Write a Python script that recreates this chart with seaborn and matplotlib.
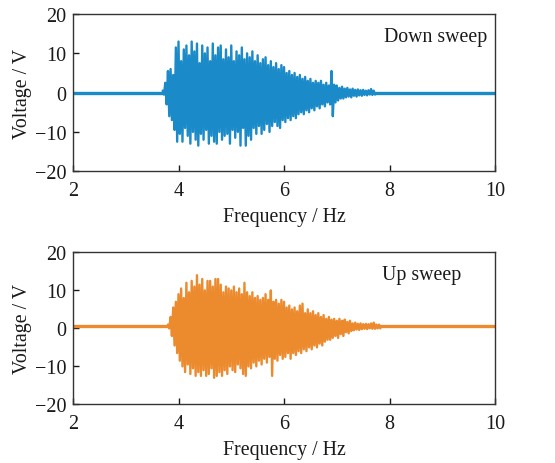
import numpy as np
import pandas as pd
import matplotlib
matplotlib.use("Agg")
import matplotlib.pyplot as plt
import seaborn as sns

# ---------------- data ----------------
# Down sweep: upper / lower peak voltages every 0.05 Hz starting at 3.70 Hz
down_start = 3.70
down_upper = [0.5, 2.5, 5.5, 6.0, 4.5, 11.5, 13.0, 8.0, 11.0, 12.0,
              9.5, 13.0, 10.5, 12.5, 7.5, 12.0, 10.0, 11.5, 8.0, 12.5,
              9.5, 11.5, 12.0, 8.5, 11.0, 9.0, 12.0, 8.0, 10.5, 9.5,
              11.5, 8.5, 10.0, 9.0, 10.5, 8.0, 9.5, 7.5, 8.5, 9.0,
              7.0, 8.0, 6.5, 7.5, 6.0, 7.0, 6.5, 5.0, 5.5, 4.5,
              5.0, 4.0, 4.5, 3.5, 4.0, 3.0, 3.5, 2.5, 3.0, 2.5,
              3.0, 2.0, 2.5, 1.8, 5.5, 2.0, 1.8, 1.2, 1.5, 1.0,
              1.2, 0.8, 1.0, 0.7, 0.8, 0.6, 0.7, 0.5, 0.6, 0.9, 0.5]
down_lower = [-0.5, -3.0, -6.0, -7.0, -9.5, -12.5, -10.5, -12.5, -9.0, -11.0,
              -13.0, -10.0, -12.0, -13.5, -10.5, -12.0, -9.5, -13.0, -11.0, -12.5,
              -13.0, -10.0, -12.0, -11.0, -10.5, -13.0, -9.5, -11.5, -10.0, -13.5,
              -9.0, -13.5, -11.0, -12.0, -9.0, -10.5, -8.5, -10.5, -9.5, -8.0,
              -10.0, -8.5, -7.5, -8.5, -9.0, -7.0, -7.5, -6.5, -7.0, -6.0,
              -6.5, -5.5, -5.0, -5.5, -4.5, -5.0, -4.0, -4.5, -3.5, -4.0,
              -3.0, -3.5, -2.5, -3.0, -6.0, -2.5, -2.0, -1.5, -1.5, -1.2,
              -1.0, -1.2, -0.8, -1.0, -0.7, -0.8, -0.6, -0.7, -0.5, -0.6, -0.5]

# Up sweep: upper / lower peak voltages every 0.05 Hz starting at 3.80 Hz
up_start = 3.80
up_upper = [0.5, 2.5, 5.0, 6.5, 8.5, 10.0, 7.5, 11.5, 9.0, 12.0,
            10.5, 13.5, 11.0, 12.5, 9.5, 12.0, 12.0, 10.5, 12.5, 12.5,
            11.0, 9.0, 10.5, 10.0, 9.5, 10.5, 9.0, 10.0, 8.5, 11.5,
            9.0, 8.0, 9.0, 7.5, 8.0, 7.0, 7.5, 8.5, 7.0, 9.5,
            6.5, 7.0, 6.0, 7.0, 6.5, 5.0, 5.5, 4.5, 5.0, 4.0,
            5.5, 6.0, 3.5, 4.5, 3.5, 4.0, 3.0, 3.5, 2.5, 3.0,
            2.0, 2.5, 1.8, 2.0, 1.5, 2.0, 1.5, 1.8, 1.2, 1.5,
            0.8, 1.0, 0.7, 0.8, 0.6, 0.7, 0.6, 0.8, 1.0, 0.5, 0.5]
up_lower = [-0.5, -2.5, -5.0, -7.0, -9.0, -10.5, -12.0, -10.0, -12.5, -11.0,
            -13.0, -12.0, -13.0, -11.5, -13.0, -12.5, -11.0, -13.5, -13.0, -12.0,
            -13.0, -11.5, -12.5, -10.5, -11.5, -12.0, -10.0, -11.0, -12.5, -13.0,
            -10.5, -11.0, -9.5, -10.5, -9.0, -10.0, -8.5, -9.5, -8.0, -13.0,
            -8.5, -9.0, -7.5, -8.5, -8.0, -7.0, -8.5, -7.0, -7.5, -6.5,
            -7.0, -6.0, -6.5, -5.5, -6.0, -5.0, -5.5, -4.5, -5.0, -4.0,
            -3.5, -3.5, -3.0, -2.5, -3.0, -2.0, -2.5, -1.5, -1.8, -1.2,
            -1.0, -0.8, -0.9, -0.7, -0.6, -0.7, -0.5, -0.6, -0.6, -0.5, -0.5]

step = 0.05
baseline_down = 0.0
baseline_up = 0.4
titles = ["Down sweep", "Up sweep"]
colors = ["#1a8ac8", "#ec8a2e"]
x_ticks = [2, 4, 6, 8, 10]
y_ticks = [-20, -10, 0, 10, 20]


def zigzag(start, upper, lower, base):
    f = start + step * np.arange(len(upper))
    xs = np.ravel(np.column_stack([f, f + step / 2]))
    ys = np.ravel(np.column_stack([upper, lower])) + base
    return pd.DataFrame({"freq": xs, "volt": ys})


# ---------------- plot ----------------
sns.set_theme(style="white")
plt.rcParams["font.family"] = ["Liberation Serif", "DejaVu Serif"]

fig = plt.figure(figsize=(5.55, 4.64), dpi=100)
ax1 = fig.add_axes([0.1315, 0.629, 0.7605, 0.3385])
ax2 = fig.add_axes([0.1315, 0.1272, 0.7605, 0.3275])

series = [(down_start, down_upper, down_lower, baseline_down),
          (up_start, up_upper, up_lower, baseline_up)]

for ax, (start, up, lo, base), title, col in zip([ax1, ax2], series, titles, colors):
    df = zigzag(start, up, lo, base)
    f_end = start + step * (len(up) - 1) + step / 2
    pre = pd.DataFrame({"freq": [2.0, start], "volt": [base, base]})
    post = pd.DataFrame({"freq": [f_end, 10.0], "volt": [base, base]})
    sns.lineplot(data=pre, x="freq", y="volt", ax=ax, color=col, lw=2.4,
                 estimator=None, sort=False)
    sns.lineplot(data=post, x="freq", y="volt", ax=ax, color=col, lw=2.4,
                 estimator=None, sort=False)
    sns.lineplot(data=df, x="freq", y="volt", ax=ax, color=col, lw=1.7,
                 estimator=None, sort=False)
    ax.set_xlim(2, 10)
    ax.set_ylim(-20, 20)
    ax.set_xticks(x_ticks)
    ax.set_yticks(y_ticks)
    ax.set_yticklabels(["\u221220", "\u221210", "0", "10", "20"])
    ax.set_xlabel("Frequency / Hz", fontsize=14.3, color="#1a1a1a", labelpad=5)
    ax.set_ylabel("Voltage / V", fontsize=14.3, color="#1a1a1a", labelpad=2)
    ax.tick_params(axis="both", direction="in", length=4, width=1,
                   labelsize=14.5, colors="#1a1a1a", pad=5,
                   left=True, bottom=True, top=False, right=False)
    ax.tick_params(axis="x", pad=7)
    for s in ax.spines.values():
        s.set_color("#333333")
        s.set_linewidth(1.0)
    ax.grid(False)

ax1.text(0.982, 0.86, titles[0], transform=ax1.transAxes, ha="right",
         va="center", fontsize=14.3, color="#1a1a1a")
ax2.text(0.92, 0.855, titles[1], transform=ax2.transAxes, ha="right",
         va="center", fontsize=14.3, color="#1a1a1a")

fig.savefig("out.png", dpi=100, facecolor="white")
